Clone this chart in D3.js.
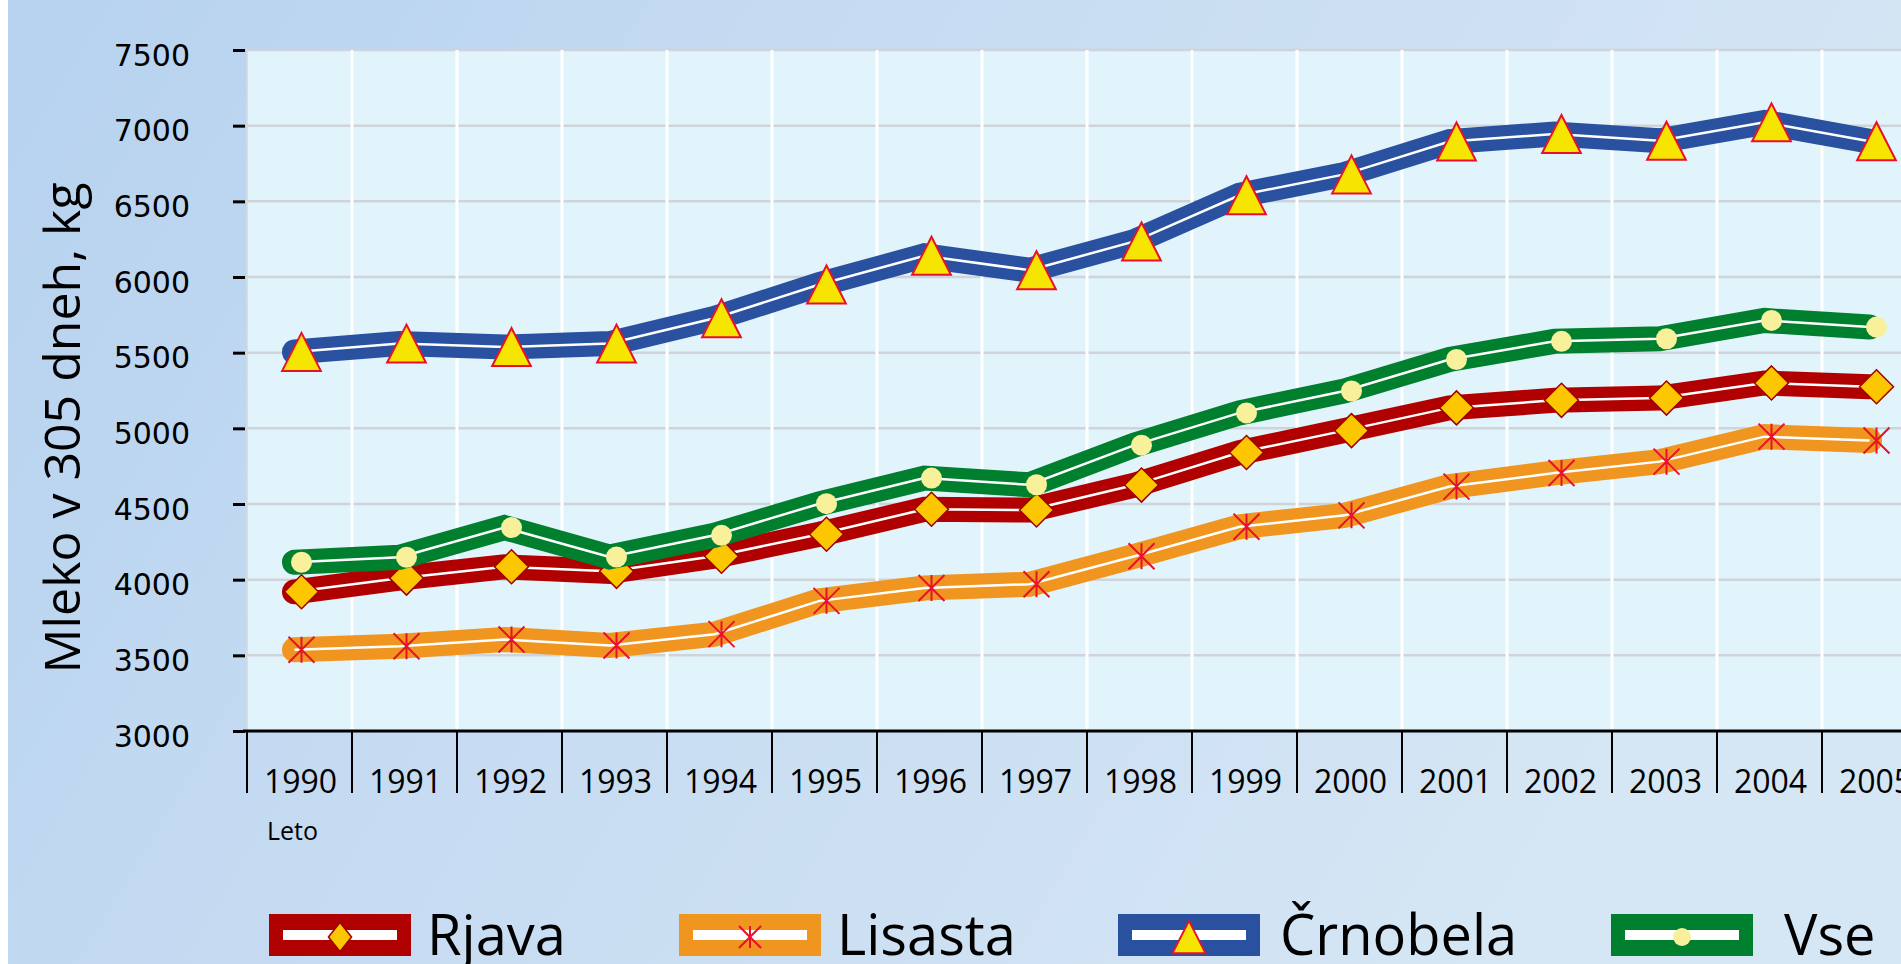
<!DOCTYPE html>
<html>
<head>
<meta charset="utf-8">
<script src="https://cdn.jsdelivr.net/npm/d3@7"></script>
<style>
  body { margin: 0; overflow: hidden; }
  svg { display: block; }
</style>
</head>
<body>
<script>
// milk yield in 305 days by breed
const years = ["1990", "1991", "1992", "1993", "1994", "1995", "1996", "1997",
               "1998", "1999", "2000", "2001", "2002", "2003", "2004", "2005"];
const rjava    = [3920, 4010, 4085, 4055, 4155, 4300, 4465, 4460, 4625, 4840, 4985, 5135, 5185, 5200, 5300, 5275];
const lisasta  = [3537, 3560, 3605, 3565, 3640, 3860, 3945, 3970, 4155, 4350, 4425, 4615, 4705, 4780, 4945, 4920];
const crnobela = [5505, 5560, 5537, 5560, 5727, 5950, 6140, 6045, 6235, 6540, 6678, 6895, 6945, 6900, 7022, 6897];
const vse      = [4115, 4148, 4344, 4150, 4293, 4502, 4671, 4627, 4889, 5102, 5247, 5455, 5575, 5592, 5713, 5669];
const seriesNames = ["Rjava", "Lisasta", "Črnobela", "Vse"];
const yTicks = [3000, 3500, 4000, 4500, 5000, 5500, 6000, 6500, 7000, 7500];

const W = 1901, H = 964;
const plotL = 247, plotT = 50, plotB = 731, step = 105;

var styles = [
    { line: "#b10000", marker: "diamond" },
    { line: "#f0951f", marker: "star" },
    { line: "#2a51a0", marker: "triangle" },
    { line: "#00802f", marker: "circle" }
];
var seriesData = [rjava, lisasta, crnobela, vse];

var svg = d3.select("body").append("svg").attr("width", W).attr("height", H);

var defs = svg.append("defs");
var grad = defs.append("linearGradient").attr("id", "bg").attr("x1", 0).attr("x2", 1).attr("y1", 0).attr("y2", 0.3);
grad.append("stop").attr("offset", "0%").attr("stop-color", "#b6d2ef");
grad.append("stop").attr("offset", "45%").attr("stop-color", "#c7dcf2");
grad.append("stop").attr("offset", "100%").attr("stop-color", "#d5e6f4");

svg.append("rect").attr("width", W).attr("height", H).attr("fill", "url(#bg)");
svg.append("rect").attr("width", 8).attr("height", H).attr("fill", "#ffffff");

var x = d3.scaleBand().domain(years).range([plotL, plotL + years.length * step]);
var y = d3.scaleLinear().domain([3000, 7500]).range([plotB, plotT]);
var bw = x.bandwidth();

// plot area
svg.append("rect").attr("x", plotL).attr("y", plotT)
    .attr("width", W - plotL).attr("height", plotB - plotT).attr("fill", "#e1f3fb");

svg.append("g").selectAll("line").data(yTicks.slice(1)).join("line")
    .attr("x1", plotL).attr("x2", W)
    .attr("y1", d => y(d)).attr("y2", d => y(d))
    .attr("stroke", "#cfd4da").attr("stroke-width", 2.5);

svg.append("g").selectAll("line").data(years.slice(1)).join("line")
    .attr("x1", d => x(d)).attr("x2", d => x(d))
    .attr("y1", plotT).attr("y2", plotB)
    .attr("stroke", "#ffffff").attr("stroke-width", 3);

svg.append("line").attr("x1", plotL).attr("x2", plotL).attr("y1", plotT).attr("y2", plotB)
    .attr("stroke", "#d3d9df").attr("stroke-width", 1.5);

// y axis
var yAxis = svg.append("g").attr("transform", "translate(245,0)")
    .call(d3.axisLeft(y).tickValues(yTicks).tickFormat(d3.format("d")).tickSize(12).tickPadding(43));
yAxis.select(".domain").remove();
yAxis.selectAll(".tick line").attr("stroke", "#000").attr("stroke-width", 3);
yAxis.selectAll(".tick text")
    .attr("font-family", "DejaVu Sans").attr("font-size", 30).attr("fill", "#000").attr("dy", "0.5em");

// x axis
var xAxis = svg.append("g").attr("transform", "translate(0," + plotB + ")")
    .call(d3.axisBottom(x).tickSize(0).tickPadding(39));
xAxis.select(".domain").remove();
xAxis.selectAll(".tick text")
    .attr("font-family", "Open Sans").attr("font-size", 32).attr("fill", "#000")
    .attr("transform", "translate(1,0)");

svg.append("g").selectAll("line").data(years).join("line")
    .attr("x1", d => x(d)).attr("x2", d => x(d))
    .attr("y1", plotB).attr("y2", plotB + 62)
    .attr("stroke", "#000").attr("stroke-width", 2);
svg.append("line").attr("x1", 243).attr("x2", W).attr("y1", plotB).attr("y2", plotB)
    .attr("stroke", "#000").attr("stroke-width", 3);

svg.append("text").attr("x", 267).attr("y", 840)
    .attr("font-family", "Open Sans").attr("font-size", 25).text("Leto");

svg.append("text").attr("transform", "translate(80,428) rotate(-90)")
    .attr("text-anchor", "middle").attr("font-family", "Open Sans").attr("font-size", 50)
    .text("Mleko v 305 dneh, kg");

// markers
function drawMarker(g, type, k) {
    k = k || 1;
    if (type == "diamond") {
        var hw = 17 * k * (k < 1 ? 0.8 : 1);
        g.append("path").attr("d", "M0," + (-17 * k) + "L" + hw + ",0L0," + (17 * k) + "L" + (-hw) + ",0Z")
            .attr("fill", "#fcc600").attr("stroke", "#a00000").attr("stroke-width", 1.5);
    } else if (type == "star") {
        var r = 13 * k;
        g.append("path").attr("d", "M0," + (-r) + "V" + r + "M" + (-r) + "," + (-r) + "L" + r + "," + r + "M" + r + "," + (-r) + "L" + (-r) + "," + r)
            .attr("stroke", "#e8102a").attr("stroke-width", 2).attr("fill", "none");
    } else if (type == "triangle") {
        var s = 19 * k;
        g.append("path").attr("d", "M0," + (-s) + "L" + (s * 1.02) + "," + s + "L" + (-s * 1.02) + "," + s + "Z")
            .attr("fill", "#f5e500").attr("stroke", "#e8102a").attr("stroke-width", 2);
    } else {
        g.append("circle").attr("r", 10.5 * k).attr("fill", "#f8f09b");
    }
}

var line = d3.line()
    .x((d, i) => x(years[i]) + bw / 2 - 5)
    .y(d => y(d));

seriesData.forEach(function (data, si) {
    var st = styles[si];
    var g = svg.append("g");
    g.append("path").attr("d", line(data)).attr("fill", "none")
        .attr("stroke", st.line).attr("stroke-width", 25)
        .attr("stroke-linecap", "round").attr("stroke-linejoin", "miter");
    g.append("path").attr("d", line(data)).attr("fill", "none")
        .attr("stroke", "#ffffff").attr("stroke-width", 2.5);
    data.forEach(function (d, i) {
        var m = g.append("g").attr("transform", "translate(" + (x(years[i]) + bw / 2 + 2) + "," + y(d) + ")");
        drawMarker(m, st.marker);
    });
});

// legend
var legendSwatchX = [269, 679, 1118, 1611];
var legendTextX = [427, 837, 1280, 1784];
seriesNames.forEach(function (name, i) {
    var g = svg.append("g");
    var sx = legendSwatchX[i];
    g.append("rect").attr("x", sx).attr("y", 914).attr("width", 142).attr("height", 42).attr("fill", styles[i].line);
    g.append("rect").attr("x", sx + 14).attr("y", 930).attr("width", 114).attr("height", 10).attr("fill", "#ffffff");
    var m = g.append("g").attr("transform", "translate(" + (sx + 71) + ",937)");
    drawMarker(m, styles[i].marker, 0.85);
    g.append("text").attr("x", legendTextX[i]).attr("y", 955)
        .attr("font-family", "Open Sans").attr("font-size", 56).text(name);
});
</script>
</body>
</html>
